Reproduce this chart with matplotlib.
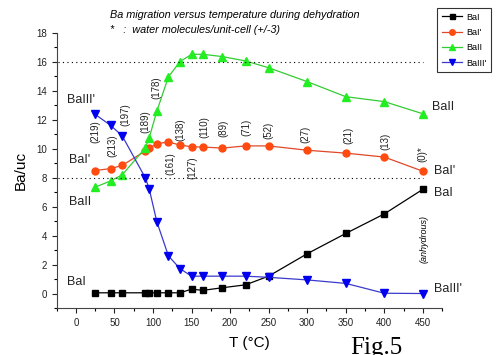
import numpy as np
import matplotlib
matplotlib.use("Agg")
import matplotlib.pyplot as plt

plt.rcParams['font.family'] = ['Liberation Sans', 'DejaVu Sans']

# temperatures (°C)
temp = [25, 45, 60, 90, 95, 105, 120, 135, 150, 165, 190, 220, 250, 300, 350, 400, 450]

# Ba per unit cell for each site
ba_i = [0.05, 0.05, 0.05, 0.05, 0.05, 0.05, 0.05, 0.05, 0.3, 0.22, 0.4, 0.6, 1.2, 2.75, 4.15, 5.5, 7.2]
ba_i1 = [8.5, 8.63, 8.85, 9.85, 10.05, 10.35, 10.47, 10.26, 10.14, 10.12, 10.05, 10.2, 10.2, 9.9, 9.7, 9.43, 8.45]
ba_ii = [7.35, 7.78, 8.2, 10.05, 10.75, 12.6, 14.97, 16.02, 16.53, 16.53, 16.37, 16.07, 15.6, 14.64, 13.6, 13.26, 12.42]
ba_iii1 = [12.38, 11.62, 10.9, 8.0, 7.25, 4.96, 2.6, 1.72, 1.2, 1.2, 1.2, 1.2, 1.12, 0.94, 0.7, 0.02, 0.0]

# water molecules / unit cell annotations
water_labels = ['(219)', '(213)', '(197)', '(189)', '(178)', '(161)', '(138)', '(127)',
                '(110)', '(89)', '(71)', '(52)', '(27)', '(21)', '(13)', '(0)*']
water_x = [25, 47, 64, 90, 105, 122, 136, 151, 166, 191, 221, 250, 298, 353, 401, 450]
water_y = [11.2, 10.2, 12.35, 11.9, 14.2, 9.0, 11.3, 8.7, 11.5, 11.4, 11.45, 11.3, 11.0, 10.95, 10.5, 9.65]

fig = plt.figure(figsize=(5.01, 3.55), dpi=100)
ax = fig.add_axes([0.113, 0.1324, 0.7695, 0.7746])

ax.plot(temp, ba_i, '-s', color='black', lw=0.9, ms=4.5, label='BaI')
ax.plot(temp, ba_i1, '-o', color='#e04828', mfc='#ff4a10', mec='#ff4a10', lw=0.9, ms=5, label="BaI'")
ax.plot(temp, ba_ii, '-^', color='#33cc33', mfc='#22ee22', mec='#22ee22', lw=0.9, ms=5.5, label='BaII')
ax.plot(temp, ba_iii1, '-v', color='#3a3acc', mfc='#0000ee', mec='#0000ee', lw=0.9, ms=5.5, label="BaIII'")

# reference lines
ax.plot([-23, 450], [16, 16], color='black', ls=(0, (1, 3)), lw=0.8)
ax.plot([-23, 450], [8, 8], color='black', ls=(0, (1, 3)), lw=0.8)

for lab, x, y in zip(water_labels, water_x, water_y):
    ax.text(x, y, lab, rotation=90, fontsize=7, ha='center', va='center', color='#222222')
ax.text(451, 3.75, '(anhydrous)', rotation=90, fontsize=6.5, style='italic', ha='center', va='center')

# curve names
ax.text(-11, 13.4, "BaIII'", fontsize=9, va='center', color='#222222')
ax.text(-9, 9.25, "BaI'", fontsize=9, va='center', color='#222222')
ax.text(-9, 6.35, "BaII", fontsize=9, va='center', color='#222222')
ax.text(-11, 0.78, "BaI", fontsize=9, va='center', color='#222222')
ax.text(462, 12.9, "BaII", fontsize=9, va='center', color='#222222')
ax.text(465, 8.5, "BaI'", fontsize=9, va='center', color='#222222')
ax.text(464, 6.95, "BaI", fontsize=9, va='center', color='#222222')
ax.text(464, 0.3, "BaIII'", fontsize=9, va='center', color='#222222')

ax.set_xlim(-25, 475)
ax.set_ylim(-1, 18)
ax.set_xticks(np.arange(0, 451, 50))
ax.set_xticks(np.arange(-25, 476, 25), minor=True)
ax.set_yticks(np.arange(0, 19, 2))
ax.set_yticks(np.arange(-1, 18, 1), minor=True)
ax.tick_params(labelsize=7, colors='#222222', length=3.5, width=0.8)
ax.tick_params(which='minor', length=2, width=0.8)
for s in ['top', 'right']:
    ax.spines[s].set_visible(False)
ax.spines['left'].set_color('#444444')
ax.spines['bottom'].set_color('#444444')

ax.set_ylabel('Ba/uc', fontsize=11, labelpad=6)
ax.set_xlabel('T (°C)', fontsize=11, labelpad=6)

fig.text(0.22, 0.957, 'Ba migration versus temperature during dehydration',
         fontsize=7.8, style='italic', va='center')
fig.text(0.22, 0.915, '*   :  water molecules/unit-cell (+/-3)',
         fontsize=7.8, style='italic', va='center')

leg = fig.legend(loc='upper left', bbox_to_anchor=(0.864, 0.99), fontsize=6.5,
                 frameon=True, fancybox=False, edgecolor='black', handlelength=2.2,
                 borderpad=0.5, labelspacing=0.7, handletextpad=0.5, markerscale=0.8)
leg.get_frame().set_linewidth(0.8)

# caption sits at the bottom edge, partly cut like in the source figure
fig.text(0.70, 0.05, 'Fig.5', family='Liberation Serif', fontsize=18, va='top')

fig.savefig('out.png', dpi=100)
